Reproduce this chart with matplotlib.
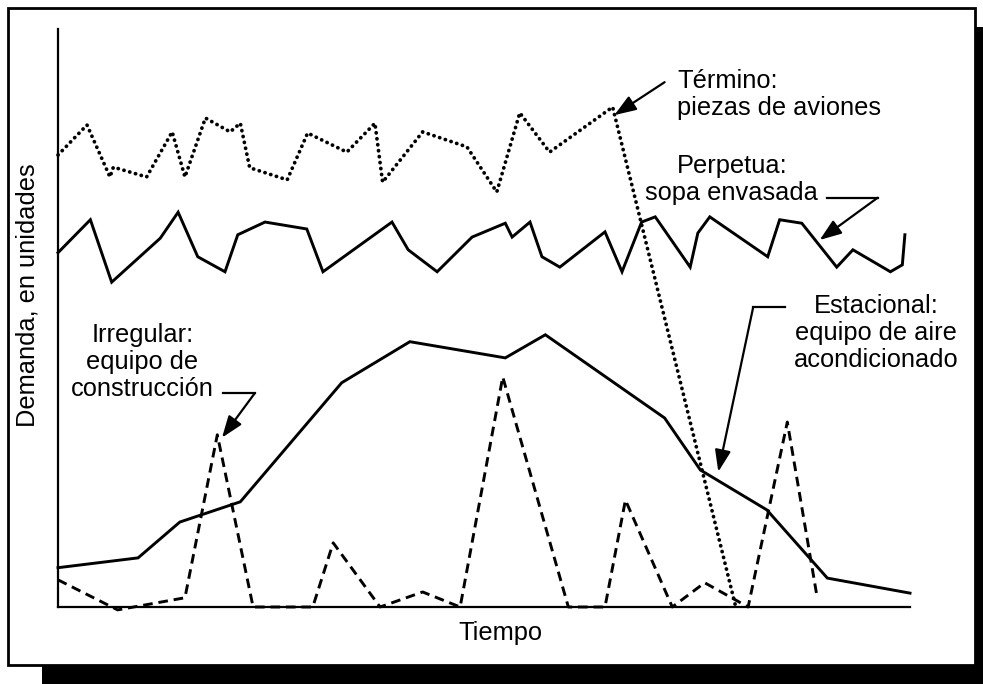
import matplotlib
matplotlib.use("Agg")
import matplotlib.pyplot as plt
from matplotlib.patches import Rectangle

plt.rcParams['font.family'] = ['Liberation Sans', 'DejaVu Sans']

# ---- data (time 0-100, demand 0-100) ----
termino_x = [0, 3.4, 6.1, 6.5, 10.4, 13.4, 14.9, 17.3, 20.2, 21.4, 22.5, 26.9, 29.3,
             33.9, 37.2, 38.1, 42.8, 48.0, 51.5, 54.2, 57.7, 65.1, 79.5]
termino_y = [78.2, 83.4, 74.4, 76.1, 74.4, 82.2, 74.4, 84.6, 82.2, 83.7, 76.0, 73.9, 82.0,
             78.7, 83.7, 73.5, 82.2, 79.6, 71.8, 85.5, 78.7, 86.5, 0.3]

perpetua_x = [0, 3.8, 6.3, 12.0, 14.1, 16.4, 19.6, 21.1, 24.3, 29.2, 31.1, 39.2, 41.1,
              44.5, 48.6, 52.5, 53.3, 55.4, 56.8, 58.9, 64.2, 66.2, 68.5, 70.1, 74.2,
              75.1, 76.5, 83.3, 84.7, 87.3, 91.4, 93.3, 97.7, 99.1, 99.4]
perpetua_y = [61.3, 67.0, 56.2, 63.8, 68.3, 60.6, 58.0, 64.4, 66.6, 65.4, 58.0, 66.6, 61.8,
              58.0, 64.0, 66.4, 64.0, 66.6, 60.6, 58.8, 64.9, 58.0, 66.6, 67.5, 58.8,
              64.7, 67.5, 60.6, 67.0, 66.4, 58.8, 61.8, 58.0, 59.2, 64.4]

estacional_x = [0, 9.4, 14.3, 21.4, 33.3, 41.3, 52.5, 57.2, 71.2, 75.4, 83.2, 90.3, 100]
estacional_y = [6.8, 8.5, 14.7, 18.2, 38.8, 45.9, 43.1, 47.1, 32.7, 23.7, 16.8, 5.0, 2.4]

irregular_x = [0, 7.0, 14.9, 18.7, 22.9, 29.9, 32.3, 37.8, 42.8, 47.2, 52.2, 59.9, 64.2,
               66.6, 72.1, 75.9, 81.0, 85.6, 89.1]
irregular_y = [4.7, -0.5, 1.6, 29.8, 0, 0, 11.1, 0, 2.6, 0, 39.8, 0, 0,
               18.5, 0, 4.2, 0, 32.0, 1.7]

# ---- figure ----
W, H = 983, 684
fig = plt.figure(figsize=(W / 100, H / 100), dpi=100)
fig.patch.set_facecolor('white')

# drop shadow + framed white box
fig.add_artist(Rectangle((42 / W, 0), 941 / W, (H - 27) / H, transform=fig.transFigure,
                         facecolor='black', edgecolor='none', zorder=-3))
fig.add_artist(Rectangle((8 / W, (H - 665) / H), (975 - 8) / W, (665 - 8) / H,
                         transform=fig.transFigure, facecolor='white', edgecolor='black',
                         linewidth=2.0, zorder=-2))

ax = fig.add_axes([58 / W, (H - 607) / H, 852 / W, 578 / H])
ax.patch.set_visible(False)
ax.set_xlim(0, 100)
ax.set_ylim(0, 100)
for s in ('top', 'right'):
    ax.spines[s].set_visible(False)
for s in ('left', 'bottom'):
    ax.spines[s].set_linewidth(1.6)
ax.set_xticks([])
ax.set_yticks([])

lw = 2.1
ax.plot(termino_x, termino_y, color='black', lw=2.7, linestyle=(0, (0.05, 1.55)),
        dash_capstyle='round', clip_on=False)
ax.plot(perpetua_x, perpetua_y, color='black', lw=lw, solid_joinstyle='miter', clip_on=False)
ax.plot(estacional_x, estacional_y, color='black', lw=lw, solid_joinstyle='miter', clip_on=False)
ax.plot(irregular_x, irregular_y, color='black', lw=lw, linestyle=(0, (3.3, 2.0)), clip_on=False)

fs = 18.3
arrow = dict(arrowstyle='-|>,head_length=0.6,head_width=0.22', color='black', lw=1.6,
             mutation_scale=22, shrinkA=0, shrinkB=0)

# Término
ax.text(72.65, 88.6, 'Término:\npiezas de aviones', fontsize=fs, ha='left', va='center',
        linespacing=1.15)
ax.annotate('', xy=(65.3, 85.1), xytext=(71.2, 90.8), arrowprops=arrow)

# Perpetua
ax.text(79.1, 73.9, 'Perpetua:\nsopa envasada', fontsize=fs, ha='center', va='center',
        linespacing=1.15)
ax.plot([90.3, 96.2], [70.8, 70.8], color='black', lw=1.6, clip_on=False)
ax.annotate('', xy=(89.4, 63.5), xytext=(96.2, 70.8), arrowprops=arrow)

# Estacional
ax.text(96.0, 47.4, 'Estacional:\nequipo de aire\nacondicionado', fontsize=fs,
        ha='center', va='center', linespacing=1.15)
ax.plot([81.6, 85.3], [51.9, 51.9], color='black', lw=1.6, clip_on=False)
ax.annotate('', xy=(77.5, 23.4), xytext=(81.6, 51.9), arrowprops=arrow)

# Irregular
ax.text(9.9, 42.4, 'Irregular:\nequipo de\nconstrucción', fontsize=fs, ha='center',
        va='center', linespacing=1.15)
ax.plot([19.4, 23.1], [37.0, 37.0], color='black', lw=1.6, clip_on=False)
ax.annotate('', xy=(19.25, 29.3), xytext=(23.1, 37.0), arrowprops=arrow)

# axis labels
ax.text((500 - 58) / 852, -(633 - 607) / 578, 'Tiempo', transform=ax.transAxes,
        fontsize=fs, ha='center', va='center')
ax.text((28 - 58) / 852, (607 - 295) / 578, 'Demanda, en unidades', transform=ax.transAxes,
        fontsize=fs, ha='center', va='center', rotation=90)

fig.savefig('out.png', dpi=100, facecolor='white')
